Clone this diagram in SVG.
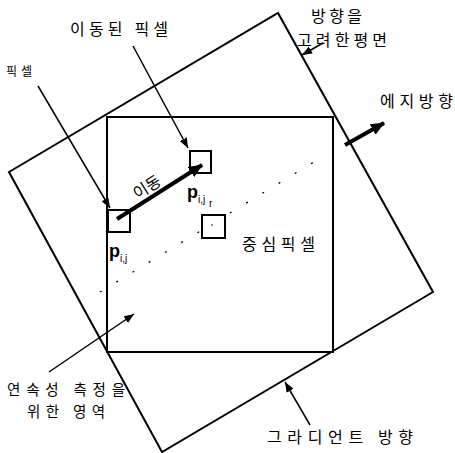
<svg xmlns="http://www.w3.org/2000/svg" width="455" height="453" viewBox="0 0 455 453">
<defs>
<style>
.shape{fill:none;stroke:#000;stroke-width:2}
.box{fill:#fff;stroke:#000;stroke-width:2}
.thin{fill:none;stroke:#000;stroke-width:1.5}
.thick{fill:none;stroke:#000;stroke-width:4}
.dots{fill:none;stroke:#000;stroke-width:1.3;stroke-dasharray:2 17}
.lbl{font-family:"Noto Sans CJK KR","Noto Sans",sans-serif;font-size:16px;fill:#000}
.sm{font-size:12px}
.two{font-size:14.5px}
.p{font-family:"Liberation Sans",Arial,sans-serif;font-weight:bold;font-size:18px;fill:#000}
.sub{font-family:"Liberation Sans",Arial,sans-serif;font-size:10px;fill:#000}
</style>
<marker id="ah" viewBox="0 0 10 8" refX="10" refY="4" markerWidth="10" markerHeight="8" markerUnits="userSpaceOnUse" orient="auto"><path d="M0,0 L10,4 L0,8 Z" fill="#000"/></marker>
<marker id="ahb" viewBox="0 0 14 12" refX="13" refY="6" markerWidth="14" markerHeight="12" markerUnits="userSpaceOnUse" orient="auto"><path d="M0,0 L14,6 L0,12 Z" fill="#000"/></marker>
</defs>
<rect width="455" height="453" fill="#fff"/>
<g id="plane"><polygon class="shape" points="9,172 278,13 433,292 162,452"/></g>
<g id="region"><rect class="shape" x="107" y="117" width="226" height="235"/></g>
<g id="dotline"><line class="dots" x1="100" y1="292" x2="327" y2="154"/></g>
<g id="pixel"><rect class="box" x="108" y="210" width="22" height="22"/></g>
<g id="moved-pixel"><rect class="box" x="190" y="151" width="21" height="22"/></g>
<g id="center-pixel"><rect class="box" x="202" y="215" width="23" height="23"/><circle cx="212" cy="225" r="0.8" fill="#000"/></g>
<g id="connectors">
<line class="thin" x1="38" y1="86" x2="110" y2="208" marker-end="url(#ah)"/>
<line class="thin" x1="133" y1="46" x2="188" y2="148" marker-end="url(#ah)"/>
<line class="thin" x1="323" y1="43" x2="302" y2="55" marker-end="url(#ah)"/>
<line class="thin" x1="49" y1="372" x2="134" y2="314" marker-end="url(#ah)"/>
<line class="thin" x1="310" y1="425" x2="285" y2="382" marker-end="url(#ah)"/>
<line class="thick" x1="117" y1="219" x2="202" y2="165" marker-end="url(#ahb)"/>
<line class="thick" x1="345" y1="145" x2="384" y2="123" marker-end="url(#ahb)"/>
</g>
<g id="labels">
<text class="lbl sm" x="6" y="76" textLength="26" lengthAdjust="spacing">픽셀</text>
<text class="lbl" x="70" y="35" textLength="98" lengthAdjust="spacing">이동된 픽셀</text>
<text class="lbl" x="311" y="22" textLength="51" lengthAdjust="spacing">방향을</text>
<text class="lbl" x="297" y="46" textLength="90" lengthAdjust="spacing">고려한평면</text>
<text class="lbl" x="380" y="107" textLength="73" lengthAdjust="spacing">에지방향</text>
<text class="lbl" x="242" y="250" textLength="73" lengthAdjust="spacing">중심픽셀</text>
<text class="lbl two" x="7" y="395" textLength="118" lengthAdjust="spacing">연속성 측정을</text>
<text class="lbl two" x="27" y="417" textLength="78" lengthAdjust="spacing">위한 영역</text>
<text class="lbl" x="267" y="443" textLength="146" lengthAdjust="spacing">그라디언트 방향</text>
<text class="lbl" transform="translate(150,192) rotate(-32)" text-anchor="middle">이동</text>
<text class="p" x="109" y="257">p</text><text class="sub" x="120" y="262">i,j</text>
<text class="p" x="187" y="198">p</text><text class="sub" x="198" y="203">i,j</text><text class="sub" x="209" y="207" font-size="7">r</text>
</g>
</svg>
